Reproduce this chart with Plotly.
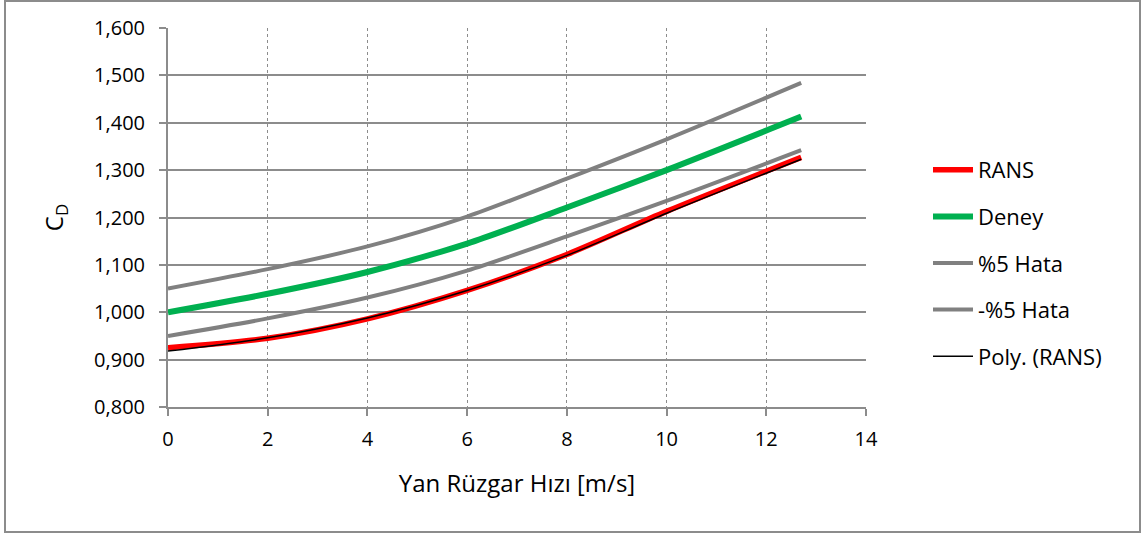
import plotly.graph_objects as go

# Data
speed = [0, 2, 4, 6, 8, 10, 12.7]
rans = [0.925, 0.945, 0.986, 1.046, 1.122, 1.213, 1.327]
deney = [1.000, 1.039, 1.085, 1.145, 1.221, 1.300, 1.413]
hata_plus = [1.050, 1.091, 1.139, 1.202, 1.282, 1.365, 1.484]
hata_minus = [0.950, 0.987, 1.031, 1.088, 1.160, 1.235, 1.342]
poly_rans = [0.918, 0.946, 0.988, 1.046, 1.120, 1.209, 1.323]

x_ticks = [0, 2, 4, 6, 8, 10, 12, 14]
y_ticks = [0.8, 0.9, 1.0, 1.1, 1.2, 1.3, 1.4, 1.5, 1.6]

FONT = "Open Sans"
W, H = 1144, 535
L, R, T, B = 168, 866, 28, 407

fig = go.Figure()
series = [
    ("RANS", rans, "#FF0000", 5.5),
    ("Deney", deney, "#00B050", 6),
    ("%5 Hata", hata_plus, "#808080", 4),
    ("-%5 Hata", hata_minus, "#808080", 4),
    ("Poly. (RANS)", poly_rans, "#000000", 1.5),
]
for i, (name, ys, col, w) in enumerate(series):
    fig.add_trace(go.Scatter(
        x=speed, y=ys, mode="lines", name=name,
        line=dict(color=col, width=w, shape="spline", smoothing=0.8),
        legendgroup=f"g{i}",
    ))

pw, ph = R - L, B - T
fig.update_layout(
    width=W, height=H,
    margin=dict(l=L, r=W - R, t=T, b=H - B),
    paper_bgcolor="white", plot_bgcolor="white",
    separators=",.",
    font=dict(family=FONT, size=20, color="#000000"),
    showlegend=True,
    legend=dict(
        x=(928 - L) / pw, y=(B - 149) / ph, xanchor="left", yanchor="top",
        font=dict(family=FONT, size=22), tracegroupgap=15,
        itemwidth=40, bgcolor="rgba(0,0,0,0)",
    ),
    xaxis=dict(
        range=[0, 14], tickvals=x_ticks, ticktext=[str(v) for v in x_ticks],
        tickfont=dict(size=20), ticklabelstandoff=6,
        showgrid=True, gridcolor="#8c8c8c", griddash="dot", gridwidth=1,
        showline=True, linecolor="#8c8c8c", linewidth=2,
        ticks="outside", ticklen=7, tickcolor="#8c8c8c", tickwidth=2,
        zeroline=False,
        title=dict(text="Yan Rüzgar Hızı [m/s]", font=dict(size=24), standoff=24),
    ),
    yaxis=dict(
        range=[0.8, 1.6], tickvals=y_ticks, tickformat=".3f",
        tickfont=dict(size=20), ticklabelstandoff=10,
        showgrid=True, gridcolor="#8c8c8c", gridwidth=2,
        showline=True, linecolor="#8c8c8c", linewidth=2,
        ticks="outside", ticklen=7, tickcolor="#8c8c8c", tickwidth=2,
        zeroline=False,
        title=dict(text="C<sub>D</sub>", font=dict(size=24), standoff=24),
    ),
    shapes=[dict(
        type="rect", xref="paper", yref="paper",
        x0=(5 - L) / pw, x1=(1140 - L) / pw,
        y0=(B - 532) / ph, y1=(B - 1) / ph,
        line=dict(color="#8c8c8c", width=2), fillcolor="rgba(0,0,0,0)",
        layer="below",
    )],
)

fig.write_html("out.html")
